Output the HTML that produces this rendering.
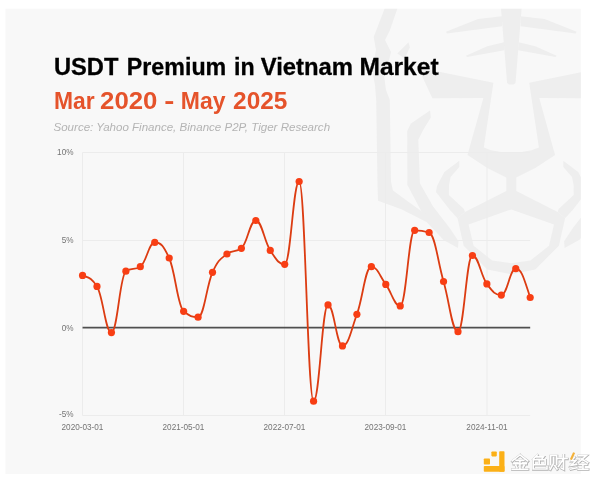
<!DOCTYPE html>
<html><head><meta charset="utf-8"><title>USDT Premium in Vietnam Market</title>
<style>
html,body{margin:0;padding:0;background:#fff;}
body{width:600px;height:483px;overflow:hidden;font-family:"Liberation Sans",sans-serif;}
svg{display:block;position:absolute;left:0;top:0;will-change:transform;}
text{font-family:"Liberation Sans",sans-serif;}
</style></head><body>
<svg width="600" height="483" viewBox="0 0 600 483">
<defs><clipPath id="panel"><rect x="5.5" y="8.7" width="575.3" height="465.3"/></clipPath></defs>
<rect x="5.5" y="8.7" width="575.3" height="465.3" fill="#f8f8f8"/>
<g clip-path="url(#panel)" fill="#eeeeee"><polygon points="500.7,5.0 521.9,5.0 515.5,83.0 513.5,84.5 509.1,84.5 507.1,83.0"/><polygon points="446.0,31.7 478.0,19.0 502.0,16.2 502.0,26.3 447.0,33.5"/><polygon points="576.6,31.7 544.6,19.0 520.6,16.2 520.6,26.3 575.6,33.5"/><polygon points="466.0,55.7 487.3,46.3 504.0,42.3 504.5,50.3 467.0,57.0"/><polygon points="556.6,55.7 535.3,46.3 518.6,42.3 518.1,50.3 555.6,57.0"/><polygon points="418.0,67.5 493.4,82.8 483.8,147.5 491.0,150.2 501.0,152.0 511.3,152.6 521.6,152.0 531.6,150.2 538.9,147.5 529.2,82.8 604.6,67.5 590.2,98.3 539.2,98.1 555.1,155.0 535.3,168.0 516.3,177.5 516.3,192.0 506.3,192.0 506.3,177.5 487.3,168.0 467.5,155.0 483.4,98.1 432.4,98.3"/><path fill-rule="evenodd" d="M506.3,191.0 L464.9,212.1 L457.5,218.3 L463.7,245.7 L487.3,269.4 L511.3,274.3 L535.3,269.4 L558.9,245.7 L565.1,218.3 L557.7,212.1 L516.3,191.0Z M511.3,209.4 L468.6,224.5 L473.6,245.7 L492.2,260.6 L511.3,263.2 L530.4,260.6 L549.0,245.7 L554.0,224.5Z"/><polygon points="459.3,160.8 444.4,172.0 437.0,186.0 436.0,192.0 449.7,209.8 457.5,218.3 464.9,212.1 464.0,209.0 448.9,194.9 449.0,185.0 450.6,177.0 459.3,167.0"/><polygon points="563.3,160.8 578.2,172.0 585.6,186.0 586.6,192.0 572.9,209.8 565.1,218.3 557.7,212.1 558.6,209.0 573.7,194.9 573.6,185.0 572.0,177.0 563.3,167.0"/><polygon points="430.0,110.4 410.9,123.6 407.2,131.0 407.4,185.0 424.9,218.1 443.1,239.7 458.0,248.0 458.5,241.3 449.7,228.1 433.1,206.5 419.9,183.3 418.3,139.7 423.3,129.8 430.8,117.4"/><polygon points="592.6,110.4 611.7,123.6 615.4,131.0 615.2,185.0 597.7,218.1 579.5,239.7 564.6,248.0 564.1,241.3 572.9,228.1 589.5,206.5 602.7,183.3 604.3,139.7 599.3,129.8 591.8,117.4"/><polygon points="386.0,5.0 373.7,37.0 376.0,50.0 372.0,70.0 375.0,85.0 376.2,100.0 377.5,185.0 378.0,200.8 401.4,209.2 426.5,222.0 440.0,236.0 444.0,232.0 428.2,216.0 409.7,202.7 393.0,190.6 391.0,181.9 389.8,100.0 386.0,90.0 384.0,75.0 389.0,60.0 391.0,52.0 385.0,40.0 390.0,30.0 398.6,5.0"/><polygon points="397.3,53.5 408.5,42.3 409.8,47.3 404.8,58.5"/></g>
<g stroke="#ececec" stroke-width="1" fill="none"><line x1="82.55" x2="530.19" y1="152.5" y2="152.5"/><line x1="82.55" x2="530.19" y1="240.5" y2="240.5"/><line x1="82.55" x2="530.19" y1="415.5" y2="415.5"/><line x1="82.50" x2="82.50" y1="152.5" y2="415.5"/><line x1="183.50" x2="183.50" y1="152.5" y2="415.5"/><line x1="284.50" x2="284.50" y1="152.5" y2="415.5"/><line x1="385.50" x2="385.50" y1="152.5" y2="415.5"/><line x1="487.00" x2="487.00" y1="152.5" y2="415.5"/></g>
<text x="53.88" y="75.15" font-size="24" font-weight="bold" fill="#000" stroke="#000" stroke-width="0.3" textLength="64.48" lengthAdjust="spacingAndGlyphs">USDT</text> <text x="126.82" y="75.15" font-size="24" font-weight="bold" fill="#000" stroke="#000" stroke-width="0.3" textLength="99.44" lengthAdjust="spacingAndGlyphs">Premium</text> <text x="234.09" y="75.15" font-size="24" font-weight="bold" fill="#000" stroke="#000" stroke-width="0.3" textLength="20.62" lengthAdjust="spacingAndGlyphs">in</text> <text x="260.65" y="75.15" font-size="24" font-weight="bold" fill="#000" stroke="#000" stroke-width="0.3" textLength="92.43" lengthAdjust="spacingAndGlyphs">Vietnam</text> <text x="359.53" y="75.15" font-size="24" font-weight="bold" fill="#000" stroke="#000" stroke-width="0.3" textLength="79.05" lengthAdjust="spacingAndGlyphs">Market</text>
<text x="54.01" y="109.25" font-size="24" font-weight="bold" fill="#e5532b" textLength="40.63" lengthAdjust="spacingAndGlyphs">Mar</text> <text x="100.13" y="109.25" font-size="24" font-weight="bold" fill="#e5532b" textLength="57.33" lengthAdjust="spacingAndGlyphs">2020</text> <text x="164.36" y="109.25" font-size="24" font-weight="bold" fill="#e5532b" textLength="10.13" lengthAdjust="spacingAndGlyphs">-</text> <text x="180.78" y="109.25" font-size="24" font-weight="bold" fill="#e5532b" textLength="44.69" lengthAdjust="spacingAndGlyphs">May</text> <text x="233.13" y="109.25" font-size="24" font-weight="bold" fill="#e5532b" textLength="54.31" lengthAdjust="spacingAndGlyphs">2025</text>
<text x="53.5" y="131.05" font-size="11.55" font-style="italic" fill="#b4b4b4">Source: Yahoo Finance, Binance P2P, Tiger Research</text>
<g font-size="8.2" fill="#747474"><text x="73.5" y="155.4" text-anchor="end">10%</text> <text x="73.5" y="242.9" text-anchor="end">5%</text> <text x="73.5" y="330.6" text-anchor="end">0%</text> <text x="73.5" y="416.9" text-anchor="end">-5%</text> <text x="82.50" y="430.4" text-anchor="middle">2020-03-01</text> <text x="183.50" y="430.4" text-anchor="middle">2021-05-01</text> <text x="284.50" y="430.4" text-anchor="middle">2022-07-01</text> <text x="385.50" y="430.4" text-anchor="middle">2023-09-01</text> <text x="487.00" y="430.4" text-anchor="middle">2024-11-01</text></g>
<line x1="82.55" x2="530.19" y1="327.7" y2="327.7" stroke="#505050" stroke-width="1.75"/>
<path d="M82.55,275.40C88.61,277.71 90.93,277.16 96.99,286.40C103.05,295.64 105.37,332.60 111.43,332.60C117.49,332.60 119.81,274.98 125.87,271.20C131.93,267.42 134.25,270.48 140.31,266.70C146.37,262.92 148.69,242.40 154.75,242.40C160.81,242.40 163.13,244.90 169.19,258.00C175.25,271.10 177.57,306.34 183.63,311.30C189.69,316.26 192.01,317.20 198.07,317.20C204.13,317.20 206.45,285.57 212.51,272.30C218.57,259.03 220.89,258.79 226.95,254.00C233.01,249.21 235.33,253.09 241.39,248.30C247.45,243.51 249.77,220.50 255.83,220.50C261.89,220.50 264.21,241.20 270.27,250.40C276.33,259.60 278.65,264.30 284.71,264.30C290.77,264.30 293.09,181.50 299.15,181.50C305.21,181.50 307.53,401.20 313.59,401.20C319.65,401.20 321.97,304.90 328.03,304.90C334.09,304.90 336.41,345.90 342.47,345.90C348.53,345.90 350.85,330.93 356.91,314.30C362.97,297.67 365.29,266.70 371.35,266.70C377.41,266.70 379.73,276.17 385.79,284.40C391.85,292.63 394.17,305.90 400.23,305.90C406.29,305.90 408.61,230.30 414.67,230.30C420.73,230.30 423.05,230.65 429.11,232.50C435.17,234.35 437.49,260.67 443.55,281.50C449.61,302.33 451.93,331.70 457.99,331.70C464.05,331.70 466.37,255.50 472.43,255.50C478.49,255.50 480.81,275.58 486.87,283.90C492.93,292.22 495.25,295.10 501.31,295.10C507.37,295.10 509.69,268.70 515.75,268.70C521.81,268.70 524.13,279.36 530.19,297.50" fill="none" stroke="#dc3c12" stroke-width="1.8" stroke-linejoin="round" stroke-linecap="round"/>
<g fill="#f83e14"><circle cx="82.55" cy="275.40" r="3.6"/><circle cx="96.99" cy="286.40" r="3.6"/><circle cx="111.43" cy="332.60" r="3.6"/><circle cx="125.87" cy="271.20" r="3.6"/><circle cx="140.31" cy="266.70" r="3.6"/><circle cx="154.75" cy="242.40" r="3.6"/><circle cx="169.19" cy="258.00" r="3.6"/><circle cx="183.63" cy="311.30" r="3.6"/><circle cx="198.07" cy="317.20" r="3.6"/><circle cx="212.51" cy="272.30" r="3.6"/><circle cx="226.95" cy="254.00" r="3.6"/><circle cx="241.39" cy="248.30" r="3.6"/><circle cx="255.83" cy="220.50" r="3.6"/><circle cx="270.27" cy="250.40" r="3.6"/><circle cx="284.71" cy="264.30" r="3.6"/><circle cx="299.15" cy="181.50" r="3.6"/><circle cx="313.59" cy="401.20" r="3.6"/><circle cx="328.03" cy="304.90" r="3.6"/><circle cx="342.47" cy="345.90" r="3.6"/><circle cx="356.91" cy="314.30" r="3.6"/><circle cx="371.35" cy="266.70" r="3.6"/><circle cx="385.79" cy="284.40" r="3.6"/><circle cx="400.23" cy="305.90" r="3.6"/><circle cx="414.67" cy="230.30" r="3.6"/><circle cx="429.11" cy="232.50" r="3.6"/><circle cx="443.55" cy="281.50" r="3.6"/><circle cx="457.99" cy="331.70" r="3.6"/><circle cx="472.43" cy="255.50" r="3.6"/><circle cx="486.87" cy="283.90" r="3.6"/><circle cx="501.31" cy="295.10" r="3.6"/><circle cx="515.75" cy="268.70" r="3.6"/><circle cx="530.19" cy="297.50" r="3.6"/></g>
<g fill="#fbb017"><rect x="499.2" y="451.2" width="5.3" height="20.5" rx="0.8"/><rect x="483.8" y="465.9" width="20.7" height="5.8" rx="0.8"/><rect x="491.4" y="451.5" width="5.4" height="4.9" rx="0.8"/><rect x="483.8" y="458.4" width="6.2" height="6.1" rx="0.8"/></g><g fill="none" stroke="#b0b0b0" stroke-width="2.8" stroke-linecap="square" stroke-linejoin="miter"><path transform="translate(511.90,455.10) scale(0.98,0.915)" d="M8.5,0.3 L0.6,6.8 M8.5,0.3 L16.4,6.8 M4.6,6.2 L12.4,6.2 M2,9.9 L15,9.9 M8.5,6.2 L8.5,15.6 M4.3,11.6 L5.4,14 M12.7,11.6 L11.6,14 M0.6,15.8 L16.4,15.8"/><path transform="translate(531.30,455.10) scale(0.98,0.915)" d="M6.3,0.2 L2.2,5 M5.2,2.4 L12.6,2.4 L10.6,5.4 M2.2,5.6 L14.4,5.6 L14.4,11 L2.2,11 M2.2,5.6 L2.2,15.6 L16.3,15.6 L16.3,12.6 M8.3,5.6 L8.3,11"/><path transform="translate(549.90,455.10) scale(0.98,0.915)" d="M1,0.9 L7.2,0.9 L7.2,11 M1,0.9 L1,11 M4.1,3 L4.1,9.5 L0.6,16 M5.2,11.8 L7.6,15.6 M8.8,4.2 L17.8,4.2 M14.2,0.2 L14.2,15.8 L12,14.6 M13.8,5 L9,12.8"/><path transform="translate(570.50,455.10) scale(0.98,0.915)" d="M4.4,2.6 L1.4,6.6 L5.6,6.6 L1,11.6 L6.6,10.8 M0.6,15.8 L6.8,14.2 M8.6,1.1 L16.2,1.1 L8.2,8.6 M11.6,4.6 L17.8,8.6 M9.2,10.6 L16.8,10.6 M13,10.6 L13,15.8 M8.2,15.8 L18,15.8"/></g><g fill="none" stroke="#ffffff" stroke-width="1.7" stroke-linecap="square" stroke-linejoin="miter"><path transform="translate(511.60,454.70) scale(0.98,0.915)" d="M8.5,0.3 L0.6,6.8 M8.5,0.3 L16.4,6.8 M4.6,6.2 L12.4,6.2 M2,9.9 L15,9.9 M8.5,6.2 L8.5,15.6 M4.3,11.6 L5.4,14 M12.7,11.6 L11.6,14 M0.6,15.8 L16.4,15.8"/><path transform="translate(531.00,454.70) scale(0.98,0.915)" d="M6.3,0.2 L2.2,5 M5.2,2.4 L12.6,2.4 L10.6,5.4 M2.2,5.6 L14.4,5.6 L14.4,11 L2.2,11 M2.2,5.6 L2.2,15.6 L16.3,15.6 L16.3,12.6 M8.3,5.6 L8.3,11"/><path transform="translate(549.60,454.70) scale(0.98,0.915)" d="M1,0.9 L7.2,0.9 L7.2,11 M1,0.9 L1,11 M4.1,3 L4.1,9.5 L0.6,16 M5.2,11.8 L7.6,15.6 M8.8,4.2 L17.8,4.2 M14.2,0.2 L14.2,15.8 L12,14.6 M13.8,5 L9,12.8"/><path transform="translate(570.20,454.70) scale(0.98,0.915)" d="M4.4,2.6 L1.4,6.6 L5.6,6.6 L1,11.6 L6.6,10.8 M0.6,15.8 L6.8,14.2 M8.6,1.1 L16.2,1.1 L8.2,8.6 M11.6,4.6 L17.8,8.6 M9.2,10.6 L16.8,10.6 M13,10.6 L13,15.8 M8.2,15.8 L18,15.8"/></g><path d="M574.1,452.6 L570.9,459.6" stroke="#f3b13a" stroke-width="2.2" fill="none"/>
</svg>
</body></html>
